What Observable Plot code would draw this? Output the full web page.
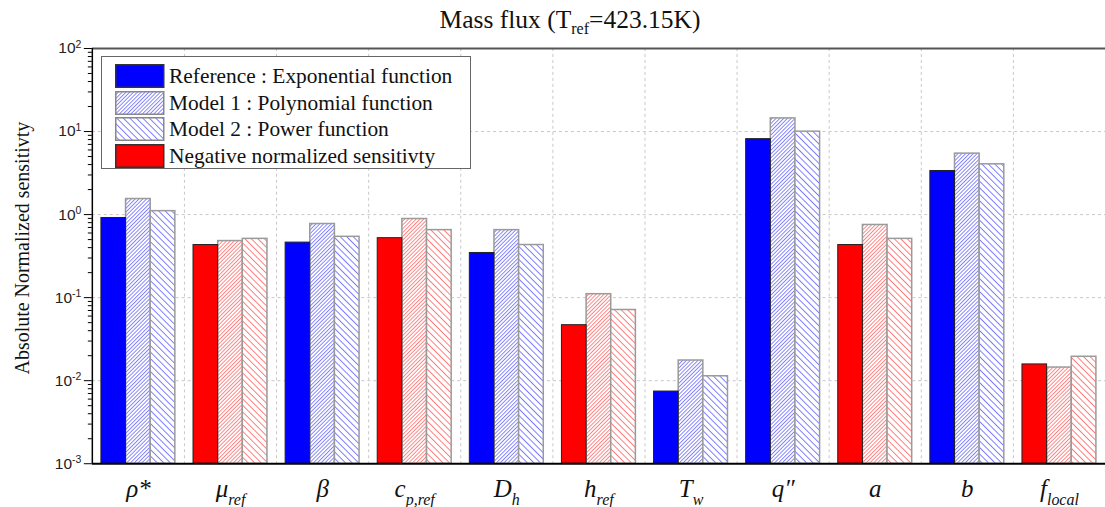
<!DOCTYPE html>
<html><head><meta charset="utf-8">
<script src="https://cdn.jsdelivr.net/npm/d3@7"></script>
<script src="https://cdn.jsdelivr.net/npm/@observablehq/plot@0.6"></script>
<style>
html,body{margin:0;padding:0;background:#fff;overflow:hidden;}
#wrap{position:relative;width:1105px;height:507px;overflow:hidden;}
.serif{font-family:"Liberation Serif","Times New Roman",Times,"DejaVu Serif",serif;}
#title{height:40px;width:1140px;text-align:center;font-size:25.5px;line-height:40px;color:#111;white-space:nowrap;}
#title sub{font-size:16px;vertical-align:-6px;line-height:0;}
#legend{position:absolute;left:101px;top:56px;width:368px;height:111px;border:1.5px solid #666;background:#fff;}
.row{position:absolute;left:13px;height:24px;width:350px;}
.row svg{position:absolute;left:0;top:0;}
.row span{position:absolute;left:54px;top:0;line-height:24px;font-size:21.4px;color:#111;white-space:nowrap;}
#plot svg{display:block;}
</style>
</head>
<body>
<svg width="0" height="0" style="position:absolute">
  <defs>
    <pattern id="m1-blue" patternUnits="userSpaceOnUse" width="2.7" height="2.7" patternTransform="rotate(45)">
      <rect width="2.7" height="2.7" fill="#fff"/><line x1="0.5" y1="0" x2="0.5" y2="2.7" stroke="#7878ff" stroke-width="0.9"/>
    </pattern>
    <pattern id="m2-blue" patternUnits="userSpaceOnUse" width="4.6" height="4.6" patternTransform="rotate(-45)">
      <rect width="4.6" height="4.6" fill="#fff"/><line x1="0.5" y1="0" x2="0.5" y2="4.6" stroke="#7070ff" stroke-width="0.9"/>
    </pattern>
    <pattern id="m1-red" patternUnits="userSpaceOnUse" width="2.7" height="2.7" patternTransform="rotate(45)">
      <rect width="2.7" height="2.7" fill="#fff"/><line x1="0.5" y1="0" x2="0.5" y2="2.7" stroke="#ff7878" stroke-width="0.9"/>
    </pattern>
    <pattern id="m2-red" patternUnits="userSpaceOnUse" width="4.6" height="4.6" patternTransform="rotate(-45)">
      <rect width="4.6" height="4.6" fill="#fff"/><line x1="0.5" y1="0" x2="0.5" y2="4.6" stroke="#ff7070" stroke-width="0.9"/>
    </pattern>
  </defs>
</svg>
<div id="wrap">
  <div id="title" class="serif"></div>
  <div id="plot"></div>
  <div id="legend" class="serif"></div>
</div>
<script>
// ---- data ----
const titleMain = "Mass flux (T";
const titleSub = "ref";
const titleRest = "=423.15K)";
const yLabel = "Absolute Normalized sensitivty";
const categories = ["rho*", "mu_ref", "beta", "c_p,ref", "D_h", "h_ref", "T_w", "q''", "a", "b", "f_local"];
const labelMain = ["\u03C1*", "\u03BC", "\u03B2", "c", "D", "h", "T", "q\u2033", "a", "b", "f"];
const labelSub = ["", "ref", "", "p,ref", "h", "ref", "w", "", "", "", "local"];
const negative = [false, true, false, true, false, true, false, false, true, false, true];
const refValues    = [0.91, 0.43, 0.46, 0.52, 0.345, 0.0466, 0.0074, 8.1, 0.43, 3.35, 0.0157];
const model1Values = [1.54, 0.48, 0.77, 0.885, 0.65, 0.11, 0.0175, 14.4, 0.75, 5.42, 0.0144];
const model2Values = [1.10, 0.51, 0.54, 0.65, 0.43, 0.071, 0.0113, 9.96, 0.51, 4.03, 0.0194];
const seriesNames = ["Reference : Exponential function", "Model 1 : Polynomial function", "Model 2 : Power function"];
const negativeName = "Negative normalized sensitivty";
const yMajorTicks = [1e-3, 1e-2, 1e-1, 1, 10, 100];
const yMinorTicks = [];
for (const m of [1e-3, 1e-2, 1e-1, 1, 10]) for (let k = 2; k <= 9; k++) yMinorTicks.push(+(m * k).toPrecision(3));

const SERIF = "Liberation Serif, Times New Roman, Times, DejaVu Serif, serif";

// ---- build table ----
const seriesValues = [refValues, model1Values, model2Values];
const rows = [];
categories.forEach((c, i) => {
  seriesValues.forEach((vals, k) => {
    rows.push({i, k, cat: c, value: vals[i], neg: negative[i]});
  });
});
const barW = 0.2676, groupStart = -0.4015;
const fillOf = d => d.k === 0 ? (d.neg ? "#ff0000" : "#0000ff") : `url(#m${d.k}-${d.neg ? "red" : "blue"})`;
const barOpts = {
  x1: d => d.i + groupStart + d.k * barW,
  x2: d => d.i + groupStart + (d.k + 1) * barW,
  y1: () => 1e-3,
  y2: "value",
  fill: fillOf
};

document.getElementById("title").innerHTML = `${titleMain}<sub>${titleSub}</sub>${titleRest}`;

const idx = d3.range(categories.length);
const plot = Plot.plot({
  width: 1107, height: 467,
  marginTop: 8, marginBottom: 43, marginLeft: 92, marginRight: 0,
  style: {fontFamily: "Liberation Sans, Arial, sans-serif", background: "#fff", overflow: "visible"},
  x: {type: "linear", domain: [-0.5, categories.length - 0.5]},
  y: {type: "log", domain: [1e-3, 1e2]},
  color: {type: "identity"},
  marks: [
    Plot.ruleY([1e-2, 1e-1, 1, 10], {stroke: "#c8c8c8", strokeDasharray: "3,3", strokeWidth: 1}),
    Plot.ruleX(idx.slice(0, -1).map(i => i + 0.5), {stroke: "#c8c8c8", strokeDasharray: "3,3", strokeWidth: 1}),
    Plot.rect(rows.filter(d => d.k > 0), {...barOpts, stroke: "#9a9a9a", strokeWidth: 1.5}),
    Plot.rect(rows.filter(d => d.k === 0), {...barOpts, stroke: "#222", strokeWidth: 1}),
    Plot.ruleY([100], {stroke: "#555", strokeWidth: 2}),
    Plot.ruleY([1e-3], {stroke: "#000", strokeWidth: 2}),
    Plot.ruleX([-0.5], {stroke: "#000", strokeWidth: 1.5}),
    Plot.axisY(yMinorTicks, {tickSize: 4, tickFormat: () => "", label: null, stroke: "#000"}),
    Plot.axisY(yMajorTicks, {tickSize: 8, tickPadding: 3, tickFormat: d => String(Math.round(Math.log10(d))), label: null, fontSize: 15.5, fill: "#222", stroke: "#000"}),
    Plot.axisX(idx, {tickSize: 0, tickPadding: 16, tickFormat: d => String(d), label: null, fontSize: 25, fontFamily: SERIF, fontStyle: "italic", fill: "#111"}),
    Plot.text([yLabel], {frameAnchor: "left", textAnchor: "middle", rotate: -90, dx: -70, dy: -8, fontSize: 20, fontFamily: SERIF, fill: "#111"})
  ]
});
document.getElementById("plot").appendChild(plot);

// superscript exponents on y tick labels
plot.querySelectorAll('g[aria-label="y-axis tick label"] text').forEach(t => {
  const e = t.textContent;
  if (!/^-?\d+$/.test(e)) return;
  t.textContent = "10";
  const s = document.createElementNS("http://www.w3.org/2000/svg", "tspan");
  s.setAttribute("dy", "-0.55em");
  s.setAttribute("font-size", "10.5");
  s.textContent = e;
  t.appendChild(s);
});
// math-style category labels with subscripts
plot.querySelectorAll('g[aria-label="x-axis tick label"] text').forEach(t => {
  const i = +t.textContent;
  if (!(i >= 0 && i < categories.length)) return;
  t.textContent = "";
  const m = document.createElementNS("http://www.w3.org/2000/svg", "tspan");
  m.textContent = labelMain[i];
  t.appendChild(m);
  if (labelSub[i]) {
    const s = document.createElementNS("http://www.w3.org/2000/svg", "tspan");
    s.setAttribute("dy", "0.45em");
    s.setAttribute("font-size", "16");
    s.textContent = labelSub[i];
    t.appendChild(s);
  }
});

// legend
const legend = document.getElementById("legend");
const legendItems = [
  {name: seriesNames[0], fill: "#0000ff", stroke: "#333"},
  {name: seriesNames[1], fill: "url(#m1-blue)", stroke: "#888"},
  {name: seriesNames[2], fill: "url(#m2-blue)", stroke: "#888"},
  {name: negativeName, fill: "#ff0000", stroke: "#333"}
];
legendItems.forEach((it, r) => {
  const row = document.createElement("div");
  row.className = "row";
  row.style.top = (7 + r * 26.7) + "px";
  row.innerHTML = `<svg width="50" height="24"><rect x="0.75" y="0.75" width="48" height="22.5" fill="${it.fill}" stroke="${it.stroke}" stroke-width="1.5"/></svg><span>${it.name}</span>`;
  legend.appendChild(row);
});
</script>
</body></html>
